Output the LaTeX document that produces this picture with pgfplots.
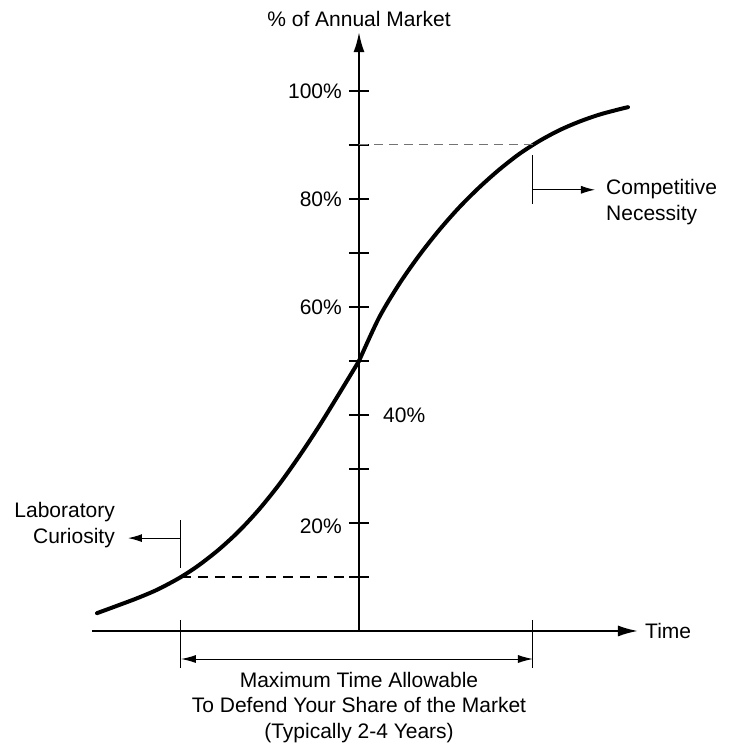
\documentclass[border=0pt]{standalone}
\usepackage{fontspec}
\setmainfont{Liberation Sans}
\usepackage{pgfplots}
\pgfplotsset{compat=1.18}
\usetikzlibrary{arrows.meta}
\begin{document}
\fontsize{21}{25.5}\selectfont
\begin{tikzpicture}
\begin{axis}[
  x=1pt, y=5.4pt,
  axis lines=middle,
  xmin=-267, xmax=279, ymin=0, ymax=110.9,
  axis line style={line width=2pt, -{Latex[length=20pt,width=11pt]}},
  xtick=\empty,
  ytick={10,20,...,100},
  yticklabels={},
  major tick length=20pt,
  tick align=center,
  tick style={line width=1.5pt, black},
  clip=false,
]
% S-curve (lower, convex part)
\addplot[line width=4pt, line cap=round, smooth, black] coordinates {
(-262,3.3) (-240,4.8) (-220,6.2) (-200,7.8) (-178,10.0) (-160,12.2)
(-140,15.1) (-120,18.5) (-100,22.5) (-80,27.1) (-60,32.3) (-40,37.9)
(-20,43.9) (0,50)};
% S-curve (upper, concave part)
\addplot[line width=4pt, line cap=round, smooth, black] coordinates {
(0,50) (20,58.0) (40,64.2) (60,69.5) (80,74.2) (100,78.4) (120,82.1)
(140,85.4) (160,88.3) (180,90.7) (200,92.7) (220,94.3) (240,95.6)
(260,96.6) (269,97.0)};
% dashed guides
\addplot[line width=2pt, black, dash pattern=on 10pt off 7pt] coordinates {(-178,10) (0,10)};
\addplot[line width=1pt, black!55, dash pattern=on 9pt off 6pt] coordinates {(0,90) (174,90)};
% Laboratory curiosity marker
\addplot[line width=1pt, black] coordinates {(-178,11.7) (-178,20.6)};
\addplot[line width=1pt, black, -{Latex[length=14pt,width=8pt]}] coordinates {(-178,17.2) (-231,17.2)};
% Competitive necessity marker
\addplot[line width=1pt, black] coordinates {(174,79.1) (174,88.1)};
\addplot[line width=1pt, black, -{Latex[length=14pt,width=8pt]}] coordinates {(174,81.7) (236,81.7)};
% bottom span
\addplot[line width=1pt, black] coordinates {(-178,2.0) (-178,-6.85)};
\addplot[line width=1pt, black] coordinates {(174,2.0) (174,-6.85)};
\addplot[line width=1pt, black, {Latex[length=15pt,width=8pt]}-{Latex[length=15pt,width=8pt]}] coordinates {(-178,-5.19) (174,-5.19)};
% tick labels
\node[anchor=east, inner sep=0pt] at (axis cs:-17,100) {100\%};
\node[anchor=east, inner sep=0pt] at (axis cs:-17,80) {80\%};
\node[anchor=east, inner sep=0pt] at (axis cs:-17,60) {60\%};
\node[anchor=east, inner sep=0pt] at (axis cs:-17,19.3) {20\%};
\node[anchor=west, inner sep=0pt] at (axis cs:24,40) {40\%};
% texts
\node[anchor=base, inner sep=0pt] at (axis cs:0,112.0) {\% of Annual Market};
\node[anchor=west, inner sep=0pt] at (axis cs:286,0) {Time};
\node[anchor=east, align=right, inner sep=0pt] at (axis cs:-244,19.6) {Laboratory\\Curiosity};
\node[anchor=west, align=left, inner sep=0pt] at (axis cs:247,79.4) {Competitive\\Necessity};
\node[anchor=north, align=center, inner sep=0pt] at (axis cs:0,-7.59) {Maximum Time Allowable\\To Defend Your Share of the Market\\(Typically 2-4 Years)};
\coordinate (bb1) at (axis cs:-359,-20.93);
\coordinate (bb2) at (axis cs:374,116.85);
\end{axis}
\pgfresetboundingbox
\path (bb1) rectangle (bb2);
\end{tikzpicture}
\end{document}
